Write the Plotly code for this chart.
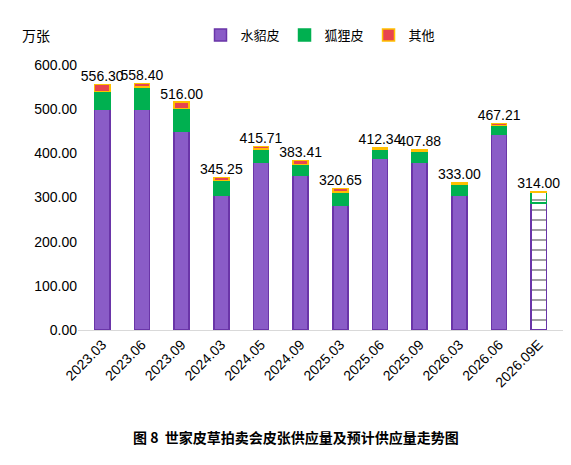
import plotly.graph_objects as go

cats = ["2023.03","2023.06","2023.09","2024.03","2024.05","2024.09","2025.03","2025.06","2025.09","2026.03","2026.06","2026.09E"]
mink = [500, 500, 450, 305, 380, 350, 283, 388, 380, 305, 443, 288]
fox = [40, 50, 52, 33, 30, 25, 30, 21, 24, 24, 20, 23]
other = [16.3, 8.4, 14, 7.25, 5.71, 8.41, 7.65, 3.34, 3.88, 4, 4.21, 3]
totals = [556.30, 558.40, 516.00, 345.25, 415.71, 383.41, 320.65, 412.34, 407.88, 333.00, 467.21, 314.00]
tick_vals = [0, 100, 200, 300, 400, 500, 600]

n = len(cats)
last = n - 1
def pat(color):
    return dict(shape=["" if i < last else "-" for i in range(n)], fgcolor=color,
                bgcolor=["rgba(0,0,0,0)" if i < last else "white" for i in range(n)], size=10, solidity=0.2)

fig = go.Figure()
fig.add_bar(x=cats, y=mink, name="水貂皮", width=0.38,
            marker=dict(color=["#8a5cc7"]*last + ["white"], line=dict(color="#6a35a8", width=1.5), pattern=pat("#6a35a8")))
fig.add_bar(x=cats, y=fox, name="狐狸皮", width=0.38,
            marker=dict(color=["#00b050"]*last + ["white"], line=dict(color="#00b050", width=1.5), pattern=pat("#00b050")))
fig.add_bar(x=cats, y=other, name="其他", width=0.38,
            marker=dict(color="#e8444f", line=dict(color="#ffc000", width=1.5)))
fig.add_scatter(x=cats, y=totals, mode="text", text=[f"{v:.2f}" for v in totals],
                textposition="top center", textfont=dict(size=14, color="black", family="Liberation Sans"),
                showlegend=False, hoverinfo="skip", cliponaxis=False)

fig.update_layout(
    width=571, height=465, barmode="stack", plot_bgcolor="white", paper_bgcolor="white",
    font=dict(family="Noto Sans CJK SC", size=13, color="black"),
    margin=dict(l=70, r=16, t=52, b=143),
    legend=dict(orientation="h", x=0.5, xanchor="center", y=1.17, yanchor="top", font=dict(size=13),
                traceorder="normal"),
    yaxis=dict(range=[0, 600], tickvals=tick_vals, tickformat=".2f", showgrid=False,
               showline=False, tickfont=dict(size=14, family="Liberation Sans")),
    xaxis=dict(tickangle=-45, showline=True, linecolor="#d9d9d9", tickfont=dict(size=14, family="Liberation Sans")),
    annotations=[
        dict(text="万张", x=-0.12, y=1.16, xref="paper", yref="paper", xanchor="left", showarrow=False, font=dict(size=14)),
        dict(text="<b>图 8  世家皮草拍卖会皮张供应量及预计供应量走势图</b>", x=0.45, y=-0.45, xref="paper", yref="paper",
             xanchor="center", showarrow=False, font=dict(size=14)),
    ],
)
fig.write_html("out.html")
